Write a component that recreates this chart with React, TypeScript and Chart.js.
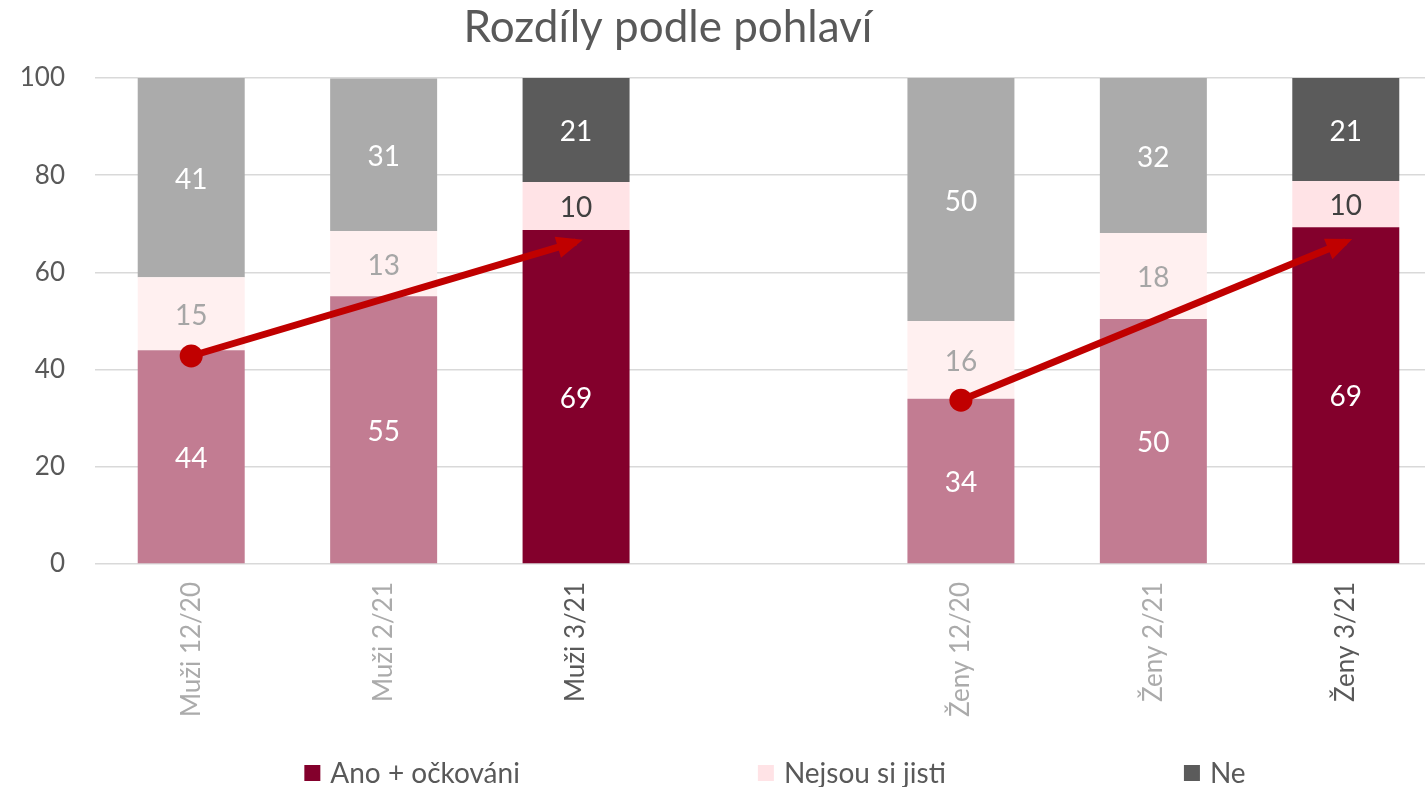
import React, { useEffect, useRef } from "react";
import { Chart, registerables } from "chart.js";

Chart.register(...registerables);

const categories = ["Muži 12/20", "Muži 2/21", "Muži 3/21", "", "Ženy 12/20", "Ženy 2/21", "Ženy 3/21"];
const anoValues = [44, 55.1, 68.7, null, 34, 50.4, 69.3];
const nejsouValues = [15, 13.4, 9.9, null, 16, 17.7, 9.5];
const neValues = [41, 31.4, 21.4, null, 50, 31.9, 21.2];
const arrowMen = [42.8, null, 66.3, null, null, null, null];
const arrowWomen = [null, null, null, null, 33.7, null, 66.3];
const yTicks = [0, 20, 40, 60, 80, 100];
const seriesNames = ["Ano + očkováni", "Nejsou si jisti", "Ne"];
const titleText = "Rozdíly podle pohlaví";

const FONT = "Lato, 'Open Sans', sans-serif";
const TEXT = "#595959";
const LIGHT_TEXT = "#ABABAB";
const highlight = [false, false, true, false, false, false, true];

const anoColors = highlight.map((h) => (h ? "#83002C" : "#C27C92"));
const nejsouColors = highlight.map((h) => (h ? "#FFE3E6" : "#FFF0F0"));
const neColors = highlight.map((h) => (h ? "#5B5B5B" : "#ABABAB"));
const anoLabelColors = highlight.map(() => "#FFFFFF");
const nejsouLabelColors = highlight.map((h) => (h ? "#404040" : "#A6A6A6"));
const neLabelColors = highlight.map(() => "#FFFFFF");
const legendColors = ["#83002C", "#FFE3E6", "#5B5B5B"];

const labelPlugin = {
  id: "barLabels",
  afterDatasetsDraw(chart: any) {
    const ctx = chart.ctx;
    ctx.save();
    ctx.font = `28px ${FONT}`;
    ctx.textAlign = "center";
    ctx.textBaseline = "middle";
    chart.data.datasets.forEach((ds: any, di: number) => {
      if (ds.type !== "bar") return;
      const meta = chart.getDatasetMeta(di);
      meta.data.forEach((el: any, i: number) => {
        const v = ds.data[i];
        if (v == null) return;
        const props = el.getProps(["x", "y", "base"], true);
        ctx.fillStyle = ds.labelColors[i];
        ctx.fillText(String(Math.round(v)), props.x, (props.y + props.base) / 2 + 2);
      });
    });
    ctx.restore();
  },
};

const arrowPlugin = {
  id: "arrows",
  afterDatasetsDraw(chart: any) {
    const ctx = chart.ctx;
    chart.data.datasets.forEach((ds: any, di: number) => {
      if (ds.type !== "line") return;
      const meta = chart.getDatasetMeta(di);
      const pts = meta.data.filter((_: any, i: number) => ds.data[i] != null);
      if (pts.length < 2) return;
      const a = pts[0];
      const b = pts[pts.length - 1];
      const dx = b.x - a.x;
      const dy = b.y - a.y;
      const len = Math.hypot(dx, dy);
      const ux = dx / len;
      const uy = dy / len;
      const tipX = b.x + ux * 7;
      const tipY = b.y + uy * 7;
      const baseX = tipX - ux * 26;
      const baseY = tipY - uy * 26;
      const hw = 11;
      ctx.save();
      ctx.fillStyle = ds.borderColor;
      ctx.beginPath();
      ctx.moveTo(tipX, tipY);
      ctx.lineTo(baseX - uy * hw, baseY + ux * hw);
      ctx.lineTo(baseX + uy * hw, baseY - ux * hw);
      ctx.closePath();
      ctx.fill();
      ctx.restore();
    });
  },
};

const titleLegendPlugin = {
  id: "titleLegend",
  afterDraw(chart: any) {
    const ctx = chart.ctx;
    ctx.save();
    ctx.fillStyle = TEXT;
    ctx.font = `44px ${FONT}`;
    ctx.textAlign = "center";
    ctx.textBaseline = "middle";
    ctx.fillText(titleText, 668, 28);

    ctx.font = `28px ${FONT}`;
    ctx.textAlign = "left";
    const box = 16;
    const gapText = 10;
    const gapItem = 238;
    const widths = seriesNames.map((n) => box + gapText + ctx.measureText(n).width);
    const total = widths.reduce((s, w) => s + w, 0) + gapItem * (widths.length - 1);
    let x = 775 - total / 2;
    const y = 773;
    seriesNames.forEach((n, i) => {
      ctx.fillStyle = legendColors[i];
      ctx.fillRect(x, y - box / 2, box, box);
      ctx.fillStyle = TEXT;
      ctx.fillText(n, x + box + gapText, y + 1);
      x += widths[i] + gapItem;
    });
    ctx.restore();
  },
};

export default function App() {
  const canvasRef = useRef<HTMLCanvasElement | null>(null);

  useEffect(() => {
    if (!canvasRef.current) return;
    const barCommon = {
      type: "bar" as const,
      barPercentage: 0.556,
      categoryPercentage: 1,
      borderWidth: 0,
      order: 2,
    };
    const chart = new Chart(canvasRef.current, {
      type: "bar",
      data: {
        labels: categories,
        datasets: [
          {
            ...barCommon,
            label: seriesNames[0],
            data: anoValues,
            backgroundColor: anoColors,
            labelColors: anoLabelColors,
          } as any,
          {
            ...barCommon,
            label: seriesNames[1],
            data: nejsouValues,
            backgroundColor: nejsouColors,
            labelColors: nejsouLabelColors,
          } as any,
          {
            ...barCommon,
            label: seriesNames[2],
            data: neValues,
            backgroundColor: neColors,
            labelColors: neLabelColors,
          } as any,
          {
            type: "line",
            label: "arrowMen",
            data: arrowMen,
            stack: "a1",
            borderColor: "#C00000",
            backgroundColor: "#C00000",
            borderWidth: 7,
            spanGaps: true,
            pointRadius: (c: any) => (c.dataIndex === 0 ? 11.5 : 0),
            pointBorderWidth: 0,
            pointBackgroundColor: "#C00000",
            order: 0,
          } as any,
          {
            type: "line",
            label: "arrowWomen",
            data: arrowWomen,
            stack: "a2",
            borderColor: "#C00000",
            backgroundColor: "#C00000",
            borderWidth: 7,
            spanGaps: true,
            pointRadius: (c: any) => (c.dataIndex === 4 ? 11.5 : 0),
            pointBorderWidth: 0,
            pointBackgroundColor: "#C00000",
            order: 0,
          } as any,
        ],
      },
      options: {
        animation: false,
        responsive: false,
        devicePixelRatio: 1,
        layout: { padding: { top: 78, bottom: 60, left: 0, right: 108 } },
        plugins: {
          legend: { display: false },
          title: { display: false },
          tooltip: { enabled: false },
        },
        scales: {
          x: {
            stacked: true,
            grid: { display: false, drawTicks: false },
            border: { display: false },
            ticks: {
              autoSkip: false,
              maxRotation: 90,
              minRotation: 90,
              padding: 18,
              font: { family: FONT, size: 26 },
              color: (c: any) => (highlight[c.index] ? TEXT : LIGHT_TEXT),
            },
            afterFit: (s: any) => {
              s.height = 163;
            },
          },
          y: {
            stacked: true,
            min: 0,
            max: 100,
            afterBuildTicks: (s: any) => {
              s.ticks = yTicks.map((v) => ({ value: v }));
            },
            grid: { color: "#D9D9D9", lineWidth: 1.5, drawTicks: false },
            border: { display: false },
            ticks: {
              padding: 30,
              font: { family: FONT, size: 26 },
              color: TEXT,
            },
            afterFit: (s: any) => {
              s.width = 95;
            },
          },
        },
      },
      plugins: [labelPlugin, arrowPlugin, titleLegendPlugin],
    });
    return () => chart.destroy();
  }, []);

  return (
    <div
      style={{
        position: "fixed",
        left: 0,
        top: 0,
        width: 1425,
        height: 787,
        overflow: "hidden",
        background: "#FFFFFF",
      }}
    >
      <canvas ref={canvasRef} width={1550} height={787} style={{ width: 1550, height: 787, display: "block" }} />
    </div>
  );
}
